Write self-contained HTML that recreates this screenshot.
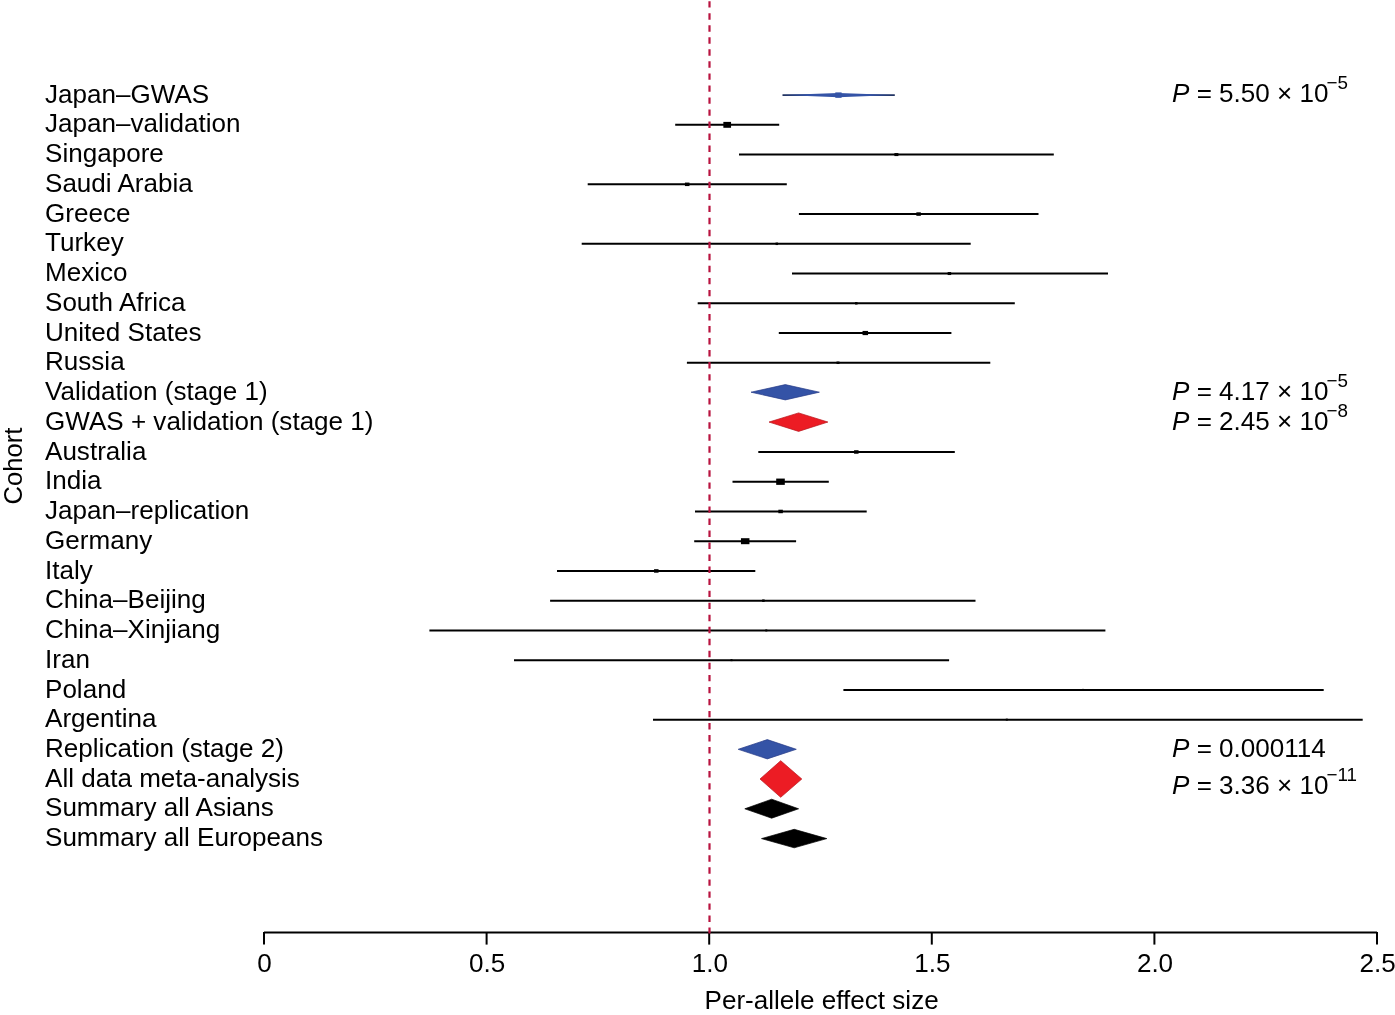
<!DOCTYPE html><html><head><meta charset="utf-8"><style>html,body{margin:0;padding:0;background:#fff;}svg{display:block;will-change:transform;}text{font-family:"Liberation Sans",sans-serif;}</style></head><body>
<svg width="1395" height="1015" viewBox="0 0 1395 1015">
<rect width="1395" height="1015" fill="#fff"/>
<g font-size="25.6" fill="#000">
<text transform="translate(45.0,102.70) scale(1.018,1)">Japan–GWAS</text>
<text transform="translate(45.0,132.44) scale(1.018,1)">Japan–validation</text>
<text transform="translate(45.0,162.18) scale(1.018,1)">Singapore</text>
<text transform="translate(45.0,191.92) scale(1.018,1)">Saudi Arabia</text>
<text transform="translate(45.0,221.66) scale(1.018,1)">Greece</text>
<text transform="translate(45.0,251.40) scale(1.018,1)">Turkey</text>
<text transform="translate(45.0,281.14) scale(1.018,1)">Mexico</text>
<text transform="translate(45.0,310.88) scale(1.018,1)">South Africa</text>
<text transform="translate(45.0,340.62) scale(1.018,1)">United States</text>
<text transform="translate(45.0,370.36) scale(1.018,1)">Russia</text>
<text transform="translate(45.0,400.10) scale(1.018,1)">Validation (stage 1)</text>
<text transform="translate(45.0,429.84) scale(1.018,1)">GWAS + validation (stage 1)</text>
<text transform="translate(45.0,459.58) scale(1.018,1)">Australia</text>
<text transform="translate(45.0,489.32) scale(1.018,1)">India</text>
<text transform="translate(45.0,519.06) scale(1.018,1)">Japan–replication</text>
<text transform="translate(45.0,548.80) scale(1.018,1)">Germany</text>
<text transform="translate(45.0,578.54) scale(1.018,1)">Italy</text>
<text transform="translate(45.0,608.28) scale(1.018,1)">China–Beijing</text>
<text transform="translate(45.0,638.02) scale(1.018,1)">China–Xinjiang</text>
<text transform="translate(45.0,667.76) scale(1.018,1)">Iran</text>
<text transform="translate(45.0,697.50) scale(1.018,1)">Poland</text>
<text transform="translate(45.0,727.24) scale(1.018,1)">Argentina</text>
<text transform="translate(45.0,756.98) scale(1.018,1)">Replication (stage 2)</text>
<text transform="translate(45.0,786.72) scale(1.018,1)">All data meta-analysis</text>
<text transform="translate(45.0,816.46) scale(1.018,1)">Summary all Asians</text>
<text transform="translate(45.0,846.20) scale(1.018,1)">Summary all Europeans</text>
</g>
<g stroke="#000" stroke-width="2.0">
<line x1="675.2" y1="124.84" x2="779.2" y2="124.84"/>
<line x1="739" y1="154.58" x2="1053.8" y2="154.58"/>
<line x1="587.7" y1="184.32" x2="786.8" y2="184.32"/>
<line x1="798.9" y1="214.06" x2="1038.5" y2="214.06"/>
<line x1="581.7" y1="243.80" x2="970.7" y2="243.80"/>
<line x1="792" y1="273.54" x2="1108" y2="273.54"/>
<line x1="697.7" y1="303.28" x2="1014.8" y2="303.28"/>
<line x1="778.8" y1="333.02" x2="951.4" y2="333.02"/>
<line x1="686.9" y1="362.76" x2="990.3" y2="362.76"/>
<line x1="758.3" y1="451.98" x2="954.8" y2="451.98"/>
<line x1="732.5" y1="481.72" x2="828.8" y2="481.72"/>
<line x1="695" y1="511.46" x2="866.7" y2="511.46"/>
<line x1="694.2" y1="541.20" x2="796.1" y2="541.20"/>
<line x1="557" y1="570.94" x2="755.3" y2="570.94"/>
<line x1="550.1" y1="600.68" x2="975.5" y2="600.68"/>
<line x1="429.4" y1="630.42" x2="1105.4" y2="630.42"/>
<line x1="514" y1="660.16" x2="949.1" y2="660.16"/>
<line x1="843.4" y1="689.90" x2="1323.7" y2="689.90"/>
<line x1="653" y1="719.64" x2="1362.7" y2="719.64"/>
</g>
<g fill="#000">
<rect x="723.35" y="121.89" width="7.7" height="5.9"/>
<rect x="894.40" y="153.08" width="4" height="3"/>
<rect x="684.95" y="182.57" width="4.5" height="3.5"/>
<rect x="916.35" y="212.31" width="4.5" height="3.5"/>
<rect x="775.55" y="242.55" width="2.5" height="2.5"/>
<rect x="947.65" y="272.04" width="3.5" height="3"/>
<rect x="855.05" y="302.03" width="2.5" height="2.5"/>
<rect x="862.55" y="330.92" width="5.5" height="4.2"/>
<rect x="836.50" y="361.51" width="3" height="2.5"/>
<rect x="854.05" y="450.23" width="4.5" height="3.5"/>
<rect x="776.20" y="478.57" width="8.6" height="6.3"/>
<rect x="778.35" y="509.71" width="4.5" height="3.5"/>
<rect x="740.95" y="538.20" width="8.5" height="6"/>
<rect x="654.05" y="569.19" width="4.5" height="3.5"/>
<rect x="762.15" y="599.43" width="2.5" height="2.5"/>
<rect x="765.30" y="629.42" width="2" height="2"/>
<rect x="730.50" y="659.16" width="2" height="2"/>
<rect x="1082.00" y="688.90" width="2" height="2"/>
<rect x="1005.80" y="718.64" width="2" height="2"/>
</g>
<line x1="782.5" y1="95.10" x2="894.8" y2="95.10" stroke="#22335e" stroke-width="1.8"/>
<polygon points="782.5,95.10 838.5,92.90 894.8,95.10 838.5,97.30" fill="#3453a6"/>
<rect x="835.3" y="92.40" width="6.3" height="5.4" fill="#3453a6"/>
<polygon points="751.0,392.2 785.3,384.6 819.4,392.2 785.3,399.9" fill="#3453a6" stroke="#263b86" stroke-width="0.7" stroke-linejoin="miter"/>
<polygon points="769.0,422.05 798.6,412.9 827.9,422.05 798.6,431.4" fill="#ec1c24" stroke="#b8141b" stroke-width="0.7" stroke-linejoin="miter"/>
<polygon points="738.2,749.3 767.3,739.6 796.3,749.3 767.3,758.9" fill="#3453a6" stroke="#263b86" stroke-width="0.7" stroke-linejoin="miter"/>
<polygon points="760.0,779.0 780.7,760.7 801.8,779.0 780.7,797.3" fill="#ec1c24" stroke="#b8141b" stroke-width="0.7" stroke-linejoin="miter"/>
<polygon points="744.8,808.8 771.7,799.2 798.6,808.8 771.7,818.2" fill="#000" stroke="#000" stroke-width="0.7" stroke-linejoin="miter"/>
<polygon points="761.5,838.6 794.2,829.3 826.8,838.6 794.2,847.8" fill="#000" stroke="#000" stroke-width="0.7" stroke-linejoin="miter"/>
<g stroke="#000" stroke-width="2">
<line x1="264" y1="932.6" x2="1377" y2="932.6"/>
<line x1="264.0" y1="932" x2="264.0" y2="944.6"/>
<line x1="486.6" y1="932" x2="486.6" y2="944.6"/>
<line x1="709.2" y1="932" x2="709.2" y2="944.6"/>
<line x1="931.8" y1="932" x2="931.8" y2="944.6"/>
<line x1="1154.4" y1="932" x2="1154.4" y2="944.6"/>
<line x1="1377.0" y1="932" x2="1377.0" y2="944.6"/>
</g>
<line x1="709.5" y1="1.2" x2="709.5" y2="933.6" stroke="#b8133f" stroke-width="2.2" stroke-dasharray="6.4 5.63"/>
<g font-size="25.6" fill="#000" text-anchor="middle">
<text transform="translate(264.60,971.9) scale(1.018,1)">0</text>
<text transform="translate(487.20,971.9) scale(1.018,1)">0.5</text>
<text transform="translate(709.80,971.9) scale(1.018,1)">1.0</text>
<text transform="translate(932.40,971.9) scale(1.018,1)">1.5</text>
<text transform="translate(1155.00,971.9) scale(1.018,1)">2.0</text>
<text transform="translate(1377.60,971.9) scale(1.018,1)">2.5</text>
<text transform="translate(821.6,1009.2) scale(1.018,1)">Per-allele effect size</text>
</g>
<text font-size="25.6" text-anchor="middle" transform="translate(21.5,466) rotate(-90)">Cohort</text>
<text transform="translate(1172,101.8) scale(1.018,1)" font-size="25.6"><tspan font-style="italic">P</tspan> = 5.50 × 10<tspan font-size="18.5" dx="-2.0" dy="-12.9">−5</tspan></text>
<text transform="translate(1172,399.7) scale(1.018,1)" font-size="25.6"><tspan font-style="italic">P</tspan> = 4.17 × 10<tspan font-size="18.5" dx="-2.0" dy="-12.9">−5</tspan></text>
<text transform="translate(1172,429.5) scale(1.018,1)" font-size="25.6"><tspan font-style="italic">P</tspan> = 2.45 × 10<tspan font-size="18.5" dx="-2.0" dy="-12.9">−8</tspan></text>
<text transform="translate(1172,757.3) scale(1.018,1)" font-size="25.6"><tspan font-style="italic">P</tspan> = 0.000114</text>
<text transform="translate(1172,793.9) scale(1.018,1)" font-size="25.6"><tspan font-style="italic">P</tspan> = 3.36 × 10<tspan font-size="18.5" dx="-2.0" dy="-12.9">−11</tspan></text>
</svg></body></html>
